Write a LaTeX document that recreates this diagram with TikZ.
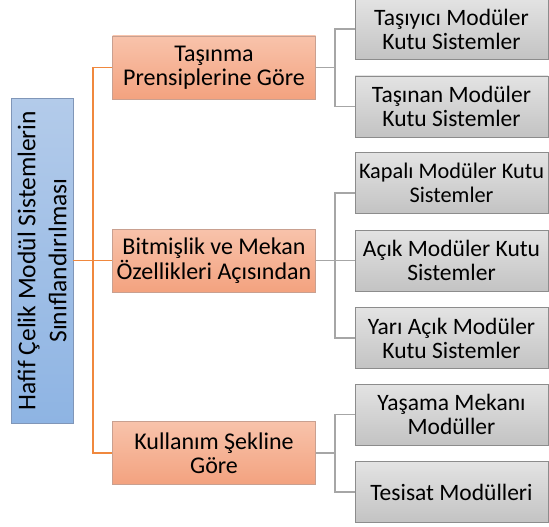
\documentclass[tikz,border=0pt]{standalone}
\usepackage{fontspec}
\setmainfont{Carlito}
\definecolor{rootTop}{HTML}{B3CBEA}
\definecolor{rootBot}{HTML}{8EB4E3}
\definecolor{rootLine}{HTML}{8096B8}
\definecolor{orTop}{HTML}{F8C3AB}
\definecolor{orBot}{HTML}{F3A27F}
\definecolor{orLine}{HTML}{C9A090}
\definecolor{grTop}{HTML}{E3E3E3}
\definecolor{grBot}{HTML}{C3C3C3}
\definecolor{grLine}{HTML}{8C8C8C}
\definecolor{orConn}{HTML}{F0883E}
\definecolor{grConn}{HTML}{A6A6A6}
\tikzset{
  basebox/.style={inner sep=0pt, align=center, text=black, line width=0.9pt},
  rootbox/.style={basebox, draw=rootLine, top color=rootTop, bottom color=rootBot,
    minimum width=325pt, minimum height=62pt, font=\fontsize{25.5}{31}\selectfont},
  catbox/.style={basebox, draw=orLine, top color=orTop, bottom color=orBot,
    minimum width=203pt, minimum height=63pt, font=\fontsize{24}{24.5}\selectfont},
  leafbox/.style={basebox, draw=grLine, top color=grTop, bottom color=grBot,
    minimum width=193pt, minimum height=61pt, font=\fontsize{23.5}{24}\selectfont},
  orline/.style={draw=orConn, line width=1.6pt},
  grline/.style={draw=grConn, line width=1.6pt}
}
\begin{document}
\begin{tikzpicture}[x=1pt,y=-1pt]
\useasboundingbox (0,0) rectangle (549,527);
\node[rootbox, rotate=90] (root) at (42,260.5) {Hafif Çelik Modül Sistemlerin\\Sınıflandırılması};
\node[catbox] (ca) at (214,67.5) {Taşınma\\Prensiplerine Göre};
\node[catbox] (cb) at (214,260.5) {Bitmişlik ve Mekan\\Özellikleri Açısından};
\node[catbox] (cc) at (214,453) {Kullanım Şekline\\Göre};
\node[leafbox] (g1) at (451.5,29) {Taşıyıcı Modüler\\Kutu Sistemler};
\node[leafbox] (g2) at (451.5,106.5) {Taşınan Modüler\\Kutu Sistemler};
\node[leafbox, font=\fontsize{22.3}{24}\selectfont] (g3) at (451.5,183) {Kapalı Modüler Kutu\\Sistemler};
\node[leafbox] (g4) at (451.5,260.5) {Açık Modüler Kutu\\Sistemler};
\node[leafbox] (g5) at (451.5,338) {Yarı Açık Modüler\\Kutu Sistemler};
\node[leafbox] (g6) at (451.5,414.5) {Yaşama Mekanı\\Modüller};
\node[leafbox] (g7) at (451.5,492) {Tesisat Modülleri};
\coordinate (trunk) at (93,260.5);
\coordinate (ja) at (335,67.5);
\coordinate (jb) at (335,260.5);
\coordinate (jc) at (335,453);
\draw[orline] (root.south) -- (cb.west);
\draw[orline] (ca.west) -| (trunk) |- (cc.west);
\draw[grline] (ca.east) -- (ja);
\draw[grline] (g1.west) -| (ja) |- (g2.west);
\draw[grline] (cb.east) -- (jb) -- (g4.west);
\draw[grline] ([yshift=-10pt]g3.west) -| (jb) |- (g5.west);
\draw[grline] (cc.east) -- (jc);
\draw[grline] (g6.west) -| (jc) |- (g7.west);
\end{tikzpicture}
\end{document}
